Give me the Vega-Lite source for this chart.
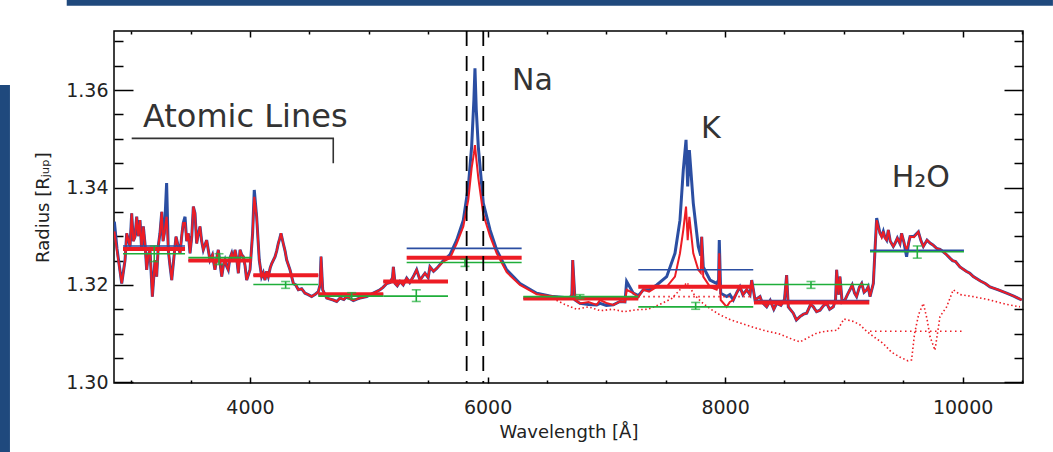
{
  "$schema": "https://vega.github.io/schema/vega-lite/v6.json",
  "width": 909,
  "height": 352,
  "autosize": "none",
  "padding": {"left": 114, "top": 31, "right": 30, "bottom": 69},
  "background": "white",
  "config": {"view": {"stroke": "black", "strokeWidth": 1.5}, "font": "DejaVu Sans"},
  "datasets": {
    "spec": [
      {"w":2858,"r":1.3310,"b":1.3330},{"w":2880,"r":1.3270,"b":1.3275},{"w":2920,"r":1.3203,"b":1.3203},
      {"w":2948,"r":1.3251,"b":1.3251},{"w":2962,"r":1.3306,"b":1.3306},{"w":2990,"r":1.3279,"b":1.3279},
      {"w":3004,"r":1.3347,"b":1.3347},{"w":3018,"r":1.3290,"b":1.3290},{"w":3032,"r":1.3299,"b":1.3299},{"w":3046,"r":1.3340,"b":1.3340},
      {"w":3060,"r":1.3300,"b":1.3300},{"w":3074,"r":1.3333,"b":1.3333},{"w":3088,"r":1.3272,"b":1.3272},{"w":3102,"r":1.3320,"b":1.3320},
      {"w":3116,"r":1.3285,"b":1.3285},{"w":3130,"r":1.3231,"b":1.3231},{"w":3144,"r":1.3262,"b":1.3262},{"w":3158,"r":1.3272,"b":1.3272},{"w":3178,"r":1.3176,"b":1.3176},
      {"w":3200,"r":1.3251,"b":1.3251},{"w":3214,"r":1.3217,"b":1.3217},{"w":3228,"r":1.3280,"b":1.3280},{"w":3242,"r":1.3306,"b":1.3306},
      {"w":3257,"r":1.3350,"b":1.3350},{"w":3268,"r":1.3290,"b":1.3290},{"w":3279,"r":1.3306,"b":1.3306},{"w":3298,"r":1.3340,"b":1.3409},
      {"w":3312,"r":1.3272,"b":1.3272},{"w":3326,"r":1.3240,"b":1.3240},{"w":3341,"r":1.3210,"b":1.3210},{"w":3360,"r":1.3258,"b":1.3258},
      {"w":3377,"r":1.3299,"b":1.3299},{"w":3395,"r":1.3280,"b":1.3280},{"w":3411,"r":1.3265,"b":1.3265},{"w":3425,"r":1.3300,"b":1.3300},{"w":3438,"r":1.3327,"b":1.3327},
      {"w":3453,"r":1.3327,"b":1.3340},{"w":3467,"r":1.3290,"b":1.3290},{"w":3481,"r":1.3306,"b":1.3306},{"w":3495,"r":1.3265,"b":1.3265},
      {"w":3510,"r":1.3300,"b":1.3300},{"w":3523,"r":1.3361,"b":1.3361},{"w":3537,"r":1.3347,"b":1.3347},{"w":3551,"r":1.3285,"b":1.3285},
      {"w":3565,"r":1.3305,"b":1.3305},{"w":3579,"r":1.3320,"b":1.3320},{"w":3593,"r":1.3290,"b":1.3290},{"w":3607,"r":1.3272,"b":1.3272},{"w":3635,"r":1.3292,"b":1.3292},
      {"w":3650,"r":1.3270,"b":1.3270},{"w":3663,"r":1.3251,"b":1.3251},{"w":3684,"r":1.3262,"b":1.3262},{"w":3705,"r":1.3231,"b":1.3231},{"w":3720,"r":1.3255,"b":1.3255},{"w":3733,"r":1.3272,"b":1.3272},
      {"w":3748,"r":1.3245,"b":1.3245},{"w":3762,"r":1.3217,"b":1.3217},{"w":3776,"r":1.3240,"b":1.3240},{"w":3790,"r":1.3251,"b":1.3251},{"w":3804,"r":1.3238,"b":1.3238},{"w":3817,"r":1.3231,"b":1.3231},
      {"w":3831,"r":1.3255,"b":1.3255},{"w":3846,"r":1.3265,"b":1.3265},{"w":3860,"r":1.3250,"b":1.3250},{"w":3874,"r":1.3272,"b":1.3272},{"w":3888,"r":1.3255,"b":1.3255},{"w":3902,"r":1.3224,"b":1.3224},
      {"w":3916,"r":1.3272,"b":1.3272},{"w":3930,"r":1.3262,"b":1.3262},{"w":3944,"r":1.3258,"b":1.3258},{"w":3958,"r":1.3240,"b":1.3240},{"w":3972,"r":1.3210,"b":1.3210},
      {"w":4000,"r":1.3231,"b":1.3231},{"w":4022,"r":1.3306,"b":1.3306},{"w":4036,"r":1.3381,"b":1.3395},
      {"w":4056,"r":1.3340,"b":1.3340},{"w":4078,"r":1.3251,"b":1.3251},{"w":4098,"r":1.3217,"b":1.3217},
      {"w":4112,"r":1.3225,"b":1.3225},{"w":4126,"r":1.3210,"b":1.3210},{"w":4140,"r":1.3228,"b":1.3228},{"w":4154,"r":1.3217,"b":1.3217},{"w":4170,"r":1.3235,"b":1.3235},{"w":4183,"r":1.3244,"b":1.3244},
      {"w":4211,"r":1.3258,"b":1.3258},{"w":4225,"r":1.3270,"b":1.3270},{"w":4238,"r":1.3285,"b":1.3285},{"w":4250,"r":1.3295,"b":1.3295},{"w":4261,"r":1.3306,"b":1.3306},
      {"w":4280,"r":1.3285,"b":1.3285},{"w":4295,"r":1.3270,"b":1.3270},{"w":4309,"r":1.3251,"b":1.3251},{"w":4337,"r":1.3231,"b":1.3231},
      {"w":4365,"r":1.3203,"b":1.3203},{"w":4385,"r":1.3200,"b":1.3200},{"w":4407,"r":1.3190,"b":1.3190},{"w":4435,"r":1.3192,"b":1.3192},{"w":4463,"r":1.3183,"b":1.3183},
      {"w":4490,"r":1.3180,"b":1.3180},{"w":4519,"r":1.3176,"b":1.3176},{"w":4550,"r":1.3181,"b":1.3181},{"w":4575,"r":1.3186,"b":1.3186},{"w":4590,"r":1.3200,"b":1.3200},{"w":4598,"r":1.3258,"b":1.3258},
      {"w":4612,"r":1.3190,"b":1.3190},{"w":4646,"r":1.3173,"b":1.3173},{"w":4701,"r":1.3169,"b":1.3169},
      {"w":4730,"r":1.3166,"b":1.3166},{"w":4758,"r":1.3173,"b":1.3173},{"w":4790,"r":1.3170,"b":1.3170},{"w":4814,"r":1.3176,"b":1.3176},{"w":4840,"r":1.3172,"b":1.3172},{"w":4870,"r":1.3168,"b":1.3168},
      {"w":4900,"r":1.3171,"b":1.3171},{"w":4926,"r":1.3173,"b":1.3173},{"w":4982,"r":1.3176,"b":1.3176},{"w":5038,"r":1.3183,"b":1.3183},
      {"w":5094,"r":1.3190,"b":1.3190},{"w":5120,"r":1.3195,"b":1.3195},{"w":5151,"r":1.3203,"b":1.3203},{"w":5180,"r":1.3205,"b":1.3205},{"w":5200,"r":1.3215,"b":1.3215},{"w":5207,"r":1.3237,"b":1.3237},
      {"w":5221,"r":1.3203,"b":1.3203},{"w":5240,"r":1.3198,"b":1.3198},{"w":5263,"r":1.3207,"b":1.3207},{"w":5290,"r":1.3200,"b":1.3200},{"w":5319,"r":1.3214,"b":1.3214},
      {"w":5345,"r":1.3205,"b":1.3205},{"w":5375,"r":1.3217,"b":1.3217},{"w":5403,"r":1.3231,"b":1.3231},{"w":5431,"r":1.3210,"b":1.3210},
      {"w":5473,"r":1.3224,"b":1.3224},{"w":5500,"r":1.3215,"b":1.3215},{"w":5515,"r":1.3237,"b":1.3237},{"w":5545,"r":1.3228,"b":1.3228},{"w":5572,"r":1.3234,"b":1.3234},
      {"w":5628,"r":1.3248,"b":1.3250},{"w":5684,"r":1.3255,"b":1.3262},{"w":5740,"r":1.3285,"b":1.3292},
      {"w":5796,"r":1.3320,"b":1.3333},{"w":5838,"r":1.3375,"b":1.3402},{"w":5866,"r":1.3440,"b":1.3484},
      {"w":5885,"r":1.3470,"b":1.3580},{"w":5894,"r":1.3487,"b":1.3645},{"w":5905,"r":1.3460,"b":1.3560},
      {"w":5922,"r":1.3420,"b":1.3484},{"w":5964,"r":1.3345,"b":1.3368},{"w":6021,"r":1.3300,"b":1.3313},
      {"w":6077,"r":1.3265,"b":1.3272},{"w":6161,"r":1.3226,"b":1.3231},{"w":6273,"r":1.3200,"b":1.3203},
      {"w":6414,"r":1.3181,"b":1.3183},{"w":6553,"r":1.3176,"b":1.3176},{"w":6694,"r":1.3173,"b":1.3173},
      {"w":6710,"r":1.3180,"b":1.3180},{"w":6717,"r":1.3251,"b":1.3251},{"w":6736,"r":1.3169,"b":1.3169},{"w":6778,"r":1.3162,"b":1.3162},
      {"w":6850,"r":1.3165,"b":1.3160},{"w":6919,"r":1.3159,"b":1.3159},{"w":6947,"r":1.3169,"b":1.3162},{"w":7000,"r":1.3163,"b":1.3158},{"w":7059,"r":1.3159,"b":1.3159},
      {"w":7115,"r":1.3166,"b":1.3166},{"w":7157,"r":1.3165,"b":1.3165},{"w":7171,"r":1.3190,"b":1.3207},
      {"w":7227,"r":1.3183,"b":1.3183},{"w":7270,"r":1.3175,"b":1.3178},{"w":7311,"r":1.3190,"b":1.3190},{"w":7360,"r":1.3186,"b":1.3190},{"w":7424,"r":1.3196,"b":1.3200},
      {"w":7508,"r":1.3196,"b":1.3217},{"w":7578,"r":1.3217,"b":1.3265},{"w":7620,"r":1.3265,"b":1.3333},
      {"w":7648,"r":1.3313,"b":1.3436},{"w":7671,"r":1.3361,"b":1.3498},{"w":7685,"r":1.3292,"b":1.3402},
      {"w":7699,"r":1.3340,"b":1.3477},{"w":7732,"r":1.3265,"b":1.3368},{"w":7774,"r":1.3231,"b":1.3279},
      {"w":7795,"r":1.3225,"b":1.3260},{"w":7803,"r":1.3299,"b":1.3299},{"w":7816,"r":1.3217,"b":1.3237},{"w":7873,"r":1.3196,"b":1.3210},
      {"w":7929,"r":1.3190,"b":1.3203},{"w":7945,"r":1.3200,"b":1.3210},{"w":7951,"r":1.3265,"b":1.3292},{"w":7963,"r":1.3169,"b":1.3183},
      {"w":8013,"r":1.3155,"b":1.3176},{"w":8040,"r":1.3165,"b":1.3180},{"w":8069,"r":1.3169,"b":1.3169},{"w":8100,"r":1.3185,"b":1.3185},{"w":8125,"r":1.3196,"b":1.3196},
      {"w":8150,"r":1.3180,"b":1.3180},{"w":8182,"r":1.3190,"b":1.3190},{"w":8210,"r":1.3180,"b":1.3180},{"w":8224,"r":1.3210,"b":1.3210},{"w":8252,"r":1.3169,"b":1.3169},
      {"w":8294,"r":1.3176,"b":1.3176},{"w":8310,"r":1.3165,"b":1.3165},{"w":8350,"r":1.3155,"b":1.3155},{"w":8380,"r":1.3168,"b":1.3168},{"w":8410,"r":1.3150,"b":1.3150},
      {"w":8434,"r":1.3162,"b":1.3162},{"w":8470,"r":1.3158,"b":1.3158},{"w":8500,"r":1.3170,"b":1.3170},
      {"w":8518,"r":1.3220,"b":1.3220},{"w":8532,"r":1.3155,"b":1.3155},{"w":8574,"r":1.3142,"b":1.3142},{"w":8600,"r":1.3128,"b":1.3128},
      {"w":8630,"r":1.3135,"b":1.3135},{"w":8660,"r":1.3140,"b":1.3140},{"w":8687,"r":1.3142,"b":1.3142},{"w":8720,"r":1.3160,"b":1.3160},{"w":8743,"r":1.3155,"b":1.3155},
      {"w":8770,"r":1.3145,"b":1.3145},{"w":8799,"r":1.3148,"b":1.3148},{"w":8830,"r":1.3158,"b":1.3158},{"w":8855,"r":1.3162,"b":1.3162},{"w":8880,"r":1.3150,"b":1.3150},{"w":8911,"r":1.3155,"b":1.3155},
      {"w":8930,"r":1.3170,"b":1.3170},{"w":8939,"r":1.3231,"b":1.3231},{"w":8955,"r":1.3180,"b":1.3180},{"w":8967,"r":1.3217,"b":1.3217},{"w":8985,"r":1.3165,"b":1.3165},{"w":9009,"r":1.3169,"b":1.3169},
      {"w":9030,"r":1.3180,"b":1.3180},{"w":9051,"r":1.3190,"b":1.3190},{"w":9070,"r":1.3200,"b":1.3200},{"w":9090,"r":1.3183,"b":1.3183},{"w":9107,"r":1.3176,"b":1.3176},
      {"w":9130,"r":1.3195,"b":1.3195},{"w":9150,"r":1.3203,"b":1.3203},{"w":9170,"r":1.3185,"b":1.3185},
      {"w":9192,"r":1.3190,"b":1.3190},{"w":9205,"r":1.3196,"b":1.3196},{"w":9220,"r":1.3176,"b":1.3176},{"w":9248,"r":1.3203,"b":1.3203},
      {"w":9262,"r":1.3272,"b":1.3272},{"w":9276,"r":1.3333,"b":1.3337},{"w":9290,"r":1.3318,"b":1.3322},{"w":9304,"r":1.3306,"b":1.3306},{"w":9318,"r":1.3298,"b":1.3300},
      {"w":9332,"r":1.3310,"b":1.3310},{"w":9345,"r":1.3296,"b":1.3298},{"w":9360,"r":1.3292,"b":1.3292},{"w":9374,"r":1.3313,"b":1.3313},{"w":9390,"r":1.3290,"b":1.3290},
      {"w":9416,"r":1.3279,"b":1.3279},{"w":9430,"r":1.3285,"b":1.3285},{"w":9450,"r":1.3296,"b":1.3296},{"w":9472,"r":1.3285,"b":1.3285},
      {"w":9486,"r":1.3306,"b":1.3306},{"w":9505,"r":1.3288,"b":1.3288},{"w":9528,"r":1.3272,"b":1.3258},{"w":9545,"r":1.3286,"b":1.3286},{"w":9557,"r":1.3299,"b":1.3299},
      {"w":9590,"r":1.3298,"b":1.3300},{"w":9627,"r":1.3309,"b":1.3309},{"w":9650,"r":1.3290,"b":1.3290},{"w":9669,"r":1.3279,"b":1.3279},{"w":9700,"r":1.3292,"b":1.3292},{"w":9725,"r":1.3286,"b":1.3286},
      {"w":9750,"r":1.3282,"b":1.3282},{"w":9781,"r":1.3275,"b":1.3275},{"w":9810,"r":1.3273,"b":1.3273},{"w":9837,"r":1.3268,"b":1.3268},{"w":9865,"r":1.3262,"b":1.3262},{"w":9893,"r":1.3255,"b":1.3255},
      {"w":9915,"r":1.3250,"b":1.3250},{"w":9940,"r":1.3248,"b":1.3248},{"w":9977,"r":1.3237,"b":1.3237},{"w":10030,"r":1.3228,"b":1.3228},
      {"w":10060,"r":1.3224,"b":1.3224},{"w":10090,"r":1.3217,"b":1.3217},{"w":10150,"r":1.3208,"b":1.3208},{"w":10190,"r":1.3203,"b":1.3203},{"w":10230,"r":1.3196,"b":1.3196},
      {"w":10300,"r":1.3190,"b":1.3190},{"w":10370,"r":1.3183,"b":1.3183},{"w":10430,"r":1.3177,"b":1.3177},
      {"w":10497,"r":1.3169,"b":1.3169}
    ],
    "dot": [
      {"w":6550,"d":1.3172},{"w":6650,"d":1.3160},{"w":6750,"d":1.3150},{"w":6850,"d":1.3155},
      {"w":6950,"d":1.3147},{"w":7050,"d":1.3150},{"w":7150,"d":1.3145},{"w":7250,"d":1.3149},
      {"w":7350,"d":1.3150},{"w":7450,"d":1.3160},{"w":7550,"d":1.3172},{"w":7620,"d":1.3190},
      {"w":7680,"d":1.3205},{"w":7740,"d":1.3180},{"w":7800,"d":1.3165},{"w":7880,"d":1.3150},
      {"w":7960,"d":1.3138},{"w":8050,"d":1.3128},{"w":8150,"d":1.3120},{"w":8250,"d":1.3112},
      {"w":8350,"d":1.3105},{"w":8450,"d":1.3100},{"w":8550,"d":1.3090},{"w":8630,"d":1.3083},
      {"w":8700,"d":1.3092},{"w":8771,"d":1.3101},{"w":8850,"d":1.3105},{"w":8946,"d":1.3107},
      {"w":9000,"d":1.3130},{"w":9080,"d":1.3125},{"w":9136,"d":1.3118},{"w":9190,"d":1.3105},
      {"w":9260,"d":1.3092},{"w":9330,"d":1.3080},{"w":9400,"d":1.3062},{"w":9470,"d":1.3052},
      {"w":9540,"d":1.3044},{"w":9570,"d":1.3046},{"w":9595,"d":1.3100},{"w":9630,"d":1.3140},
      {"w":9669,"d":1.3162},{"w":9700,"d":1.3130},{"w":9725,"d":1.3094},{"w":9767,"d":1.3066},
      {"w":9809,"d":1.3135},{"w":9865,"d":1.3155},{"w":9921,"d":1.3190},{"w":9980,"d":1.3180},
      {"w":10090,"d":1.3176},{"w":10230,"d":1.3169},{"w":10370,"d":1.3160},{"w":10483,"d":1.3155}
    ],
    "bins": [
      {"w1":2931,"w2":3453,"red":1.3274,"blue":1.3280,"green":1.3264,"ew":3194,"lo":1.3248,"hi":1.3280},
      {"w1":3481,"w2":4014,"red":1.3250,"blue":1.3250,"green":1.3256,"ew":3739,"lo":1.3242,"hi":1.3264},
      {"w1":4028,"w2":4575,"red":1.3220,"blue":1.3220,"green":1.3201,"ew":4300,"lo":1.3193,"hi":1.3207},
      {"w1":4575,"w2":5122,"red":1.3181,"blue":1.3181,"green":1.3177,"ew":4856,"lo":1.3171,"hi":1.3184},
      {"w1":5122,"w2":5667,"red":1.3207,"blue":1.3207,"green":1.3177,"ew":5400,"lo":1.3166,"hi":1.3190},
      {"w1":5319,"w2":6287,"red":1.3256,"blue":1.3275,"green":1.3246,"ew":5810,"lo":1.3238,"hi":1.3253},
      {"w1":6301,"w2":7269,"red":1.3172,"blue":1.3172,"green":1.3176,"ew":6778,"lo":1.3172,"hi":1.3180},
      {"w1":7269,"w2":8237,"red":1.3196,"blue":1.3231,"green":1.3155,"ew":7752,"lo":1.3150,"hi":1.3164},
      {"w1":8243,"w2":9214,"red":1.3164,"blue":1.3168,"green":1.3201,"ew":8723,"lo":1.3193,"hi":1.3207},
      {"w1":9220,"w2":10011,"red":null,"blue":1.3271,"green":1.3268,"ew":9618,"lo":1.3255,"hi":1.3280}
    ],
    "dbins": [
      {"w1":7269,"w2":8237,"v":1.3176},
      {"w1":9220,"w2":10011,"v":1.3105}
    ],
    "doublet": [{"w":5824},{"w":5964}],
    "bracket": [{"o":1,"w":3004,"v":1.3501},{"o":2,"w":4701,"v":1.3501},{"o":3,"w":4701,"v":1.3450}]
  },
  "layer": [
    {
      "data": {"values": [{}]},
      "mark": {"type": "rect", "color": "#1f497d", "clip": false},
      "encoding": {
        "x": {"datum": 2457, "type": "quantitative", "scale": {"domain": [2855, 10508], "nice": false, "zero": false}, "axis": null},
        "x2": {"datum": 10760},
        "y": {"datum": 1.37734, "type": "quantitative", "scale": {"domain": [1.29986, 1.37214], "nice": false, "zero": false}, "axis": null},
        "y2": {"datum": 1.37851}
      }
    },
    {
      "data": {"values": [{}]},
      "mark": {"type": "rect", "color": "#1f497d", "clip": false},
      "encoding": {
        "x": {"datum": 1895, "type": "quantitative", "scale": {"domain": [2855, 10508], "nice": false, "zero": false}, "axis": null},
        "x2": {"datum": 1979},
        "y": {"datum": 1.28569, "type": "quantitative", "scale": {"domain": [1.29986, 1.37214], "nice": false, "zero": false}, "axis": null},
        "y2": {"datum": 1.36105}
      }
    },
    {
      "data": {"name": "spec"},
      "mark": {"type": "line", "color": "#2b4ea2", "strokeWidth": 3, "clip": true},
      "encoding": {
        "x": {"field": "w", "type": "quantitative", "scale": {"domain": [2855, 10508], "nice": false, "zero": false},
          "axis": {"orient": "bottom", "values": [3000,3500,4000,4500,5000,5500,6000,6500,7000,7500,8000,8500,9000,9500,10000,10500],
            "labels": false, "domain": false, "grid": false, "title": null, "tickColor": "black", "tickWidth": 1.5,
            "tickSize": {"condition": {"test": "datum.value % 2000 === 0", "value": -6}, "value": -3}}},
        "y": {"field": "b", "type": "quantitative", "scale": {"domain": [1.29986, 1.37214], "nice": false, "zero": false},
          "axis": {"orient": "left", "values": [1.3,1.305,1.31,1.315,1.32,1.325,1.33,1.335,1.34,1.345,1.35,1.355,1.36,1.365,1.37],
            "labels": false, "domain": false, "grid": false, "title": null, "tickColor": "black", "tickWidth": 1.5,
            "tickSize": {"condition": {"test": "abs(datum.value*50 - round(datum.value*50)) < 0.01", "value": -19}, "value": -9}}}
      }
    },
    {
      "data": {"name": "spec"},
      "mark": {"type": "line", "color": "#ed1c24", "strokeWidth": 2, "clip": true},
      "encoding": {
        "x": {"field": "w", "type": "quantitative", "scale": {"domain": [2855, 10508], "nice": false, "zero": false},
          "axis": {"orient": "bottom", "values": [4000, 6000, 8000, 10000], "format": "d", "ticks": false, "domain": false, "grid": false,
            "labelFont": "DejaVu Sans", "labelFontSize": 19, "labelColor": "#222", "labelPadding": 15, "labelFlush": false, "labelOverlap": false,
            "title": "Wavelength [Å]", "titleFont": "DejaVu Sans", "titleFontSize": 18, "titleFontWeight": "normal", "titleColor": "#222", "titlePadding": 6}},
        "y": {"field": "r", "type": "quantitative", "scale": {"domain": [1.29986, 1.37214], "nice": false, "zero": false},
          "axis": {"orient": "left", "values": [1.30, 1.32, 1.34, 1.36], "format": ".2f", "ticks": false, "domain": false, "grid": false,
            "labelFont": "DejaVu Sans", "labelFontSize": 19, "labelColor": "#222", "labelPadding": 6, "labelFlush": false, "labelOverlap": false,
            "title": "Radius [Rⱼᵤₚ]", "titleFont": "DejaVu Sans", "titleFontSize": 18, "titleFontWeight": "normal", "titleColor": "#222", "titlePadding": 13}}
      }
    },
    {
      "data": {"name": "dot"},
      "mark": {"type": "line", "color": "#ed1c24", "strokeWidth": 1.6, "strokeDash": [1.5, 2.5], "clip": true},
      "encoding": {
        "x": {"field": "w", "type": "quantitative", "scale": {"domain": [2855, 10508], "nice": false, "zero": false},
          "axis": {"orient": "top", "values": [3000,3500,4000,4500,5000,5500,6000,6500,7000,7500,8000,8500,9000,9500,10000,10500],
            "labels": false, "domain": false, "grid": false, "title": null, "tickColor": "black", "tickWidth": 1.5,
            "tickSize": {"condition": {"test": "datum.value % 2000 === 0", "value": -6}, "value": -3}}},
        "y": {"field": "d", "type": "quantitative", "scale": {"domain": [1.29986, 1.37214], "nice": false, "zero": false},
          "axis": {"orient": "right", "values": [1.3,1.305,1.31,1.315,1.32,1.325,1.33,1.335,1.34,1.345,1.35,1.355,1.36,1.365,1.37],
            "labels": false, "domain": false, "grid": false, "title": null, "tickColor": "black", "tickWidth": 1.5,
            "tickSize": {"condition": {"test": "abs(datum.value*50 - round(datum.value*50)) < 0.01", "value": -19}, "value": -9}}}
      }
    },
    {
      "data": {"name": "dbins"},
      "mark": {"type": "rule", "color": "#ed1c24", "strokeWidth": 1.6, "strokeDash": [1.5, 3.5]},
      "encoding": {
        "x": {"field": "w1", "type": "quantitative", "axis": null},
        "x2": {"field": "w2"},
        "y": {"field": "v", "type": "quantitative", "axis": null}
      }
    },
    {
      "data": {"name": "bins"},
      "mark": {"type": "rule", "color": "#2b4ea2", "strokeWidth": 1.6},
      "encoding": {
        "x": {"field": "w1", "type": "quantitative", "axis": null},
        "x2": {"field": "w2"},
        "y": {"field": "blue", "type": "quantitative", "axis": null}
      }
    },
    {
      "data": {"name": "bins"},
      "mark": {"type": "rule", "color": "#ed1c24", "strokeWidth": 4},
      "encoding": {
        "x": {"field": "w1", "type": "quantitative", "axis": null},
        "x2": {"field": "w2"},
        "y": {"field": "red", "type": "quantitative", "axis": null}
      }
    },
    {
      "data": {"name": "bins"},
      "mark": {"type": "rule", "color": "#1fae3a", "strokeWidth": 1.6},
      "encoding": {
        "x": {"field": "w1", "type": "quantitative", "axis": null},
        "x2": {"field": "w2"},
        "y": {"field": "green", "type": "quantitative", "axis": null}
      }
    },
    {
      "data": {"name": "bins"},
      "mark": {"type": "errorbar", "color": "#1fae3a", "thickness": 1.6, "ticks": {"size": 9, "color": "#1fae3a", "thickness": 1.6}},
      "encoding": {
        "x": {"field": "ew", "type": "quantitative", "axis": null},
        "y": {"field": "lo", "type": "quantitative", "axis": null},
        "y2": {"field": "hi"}
      }
    },
    {
      "data": {"name": "doublet"},
      "mark": {"type": "rule", "color": "black", "strokeWidth": 1.8, "strokeDash": [15, 10]},
      "encoding": {
        "x": {"field": "w", "type": "quantitative", "axis": null}
      }
    },
    {
      "data": {"name": "bracket"},
      "mark": {"type": "line", "color": "#333", "strokeWidth": 1.6},
      "encoding": {
        "x": {"field": "w", "type": "quantitative", "axis": null},
        "y": {"field": "v", "type": "quantitative", "axis": null},
        "order": {"field": "o"}
      }
    },
    {
      "data": {"values": [{}]},
      "mark": {"type": "text", "text": "Atomic Lines", "font": "DejaVu Sans", "fontSize": 32, "color": "#333", "align": "left", "baseline": "alphabetic"},
      "encoding": {
        "x": {"datum": 3099, "type": "quantitative", "axis": null},
        "y": {"datum": 1.35249, "type": "quantitative", "axis": null}
      }
    },
    {
      "data": {"values": [{}]},
      "mark": {"type": "text", "text": "Na", "font": "DejaVu Sans", "fontSize": 30, "color": "#333", "align": "center", "baseline": "alphabetic"},
      "encoding": {
        "x": {"datum": 6378, "type": "quantitative", "axis": null},
        "y": {"datum": 1.36003, "type": "quantitative", "axis": null}
      }
    },
    {
      "data": {"values": [{}]},
      "mark": {"type": "text", "text": "K", "font": "DejaVu Sans", "fontSize": 30, "color": "#333", "align": "center", "baseline": "alphabetic"},
      "encoding": {
        "x": {"datum": 7879, "type": "quantitative", "axis": null},
        "y": {"datum": 1.35011, "type": "quantitative", "axis": null}
      }
    },
    {
      "data": {"values": [{}]},
      "mark": {"type": "text", "text": "H₂O", "font": "DejaVu Sans", "fontSize": 30, "color": "#333", "align": "left", "baseline": "alphabetic"},
      "encoding": {
        "x": {"datum": 9402, "type": "quantitative", "axis": null},
        "y": {"datum": 1.34005, "type": "quantitative", "axis": null}
      }
    }
  ],
  "resolve": {"axis": {"x": "independent", "y": "independent"}}
}
